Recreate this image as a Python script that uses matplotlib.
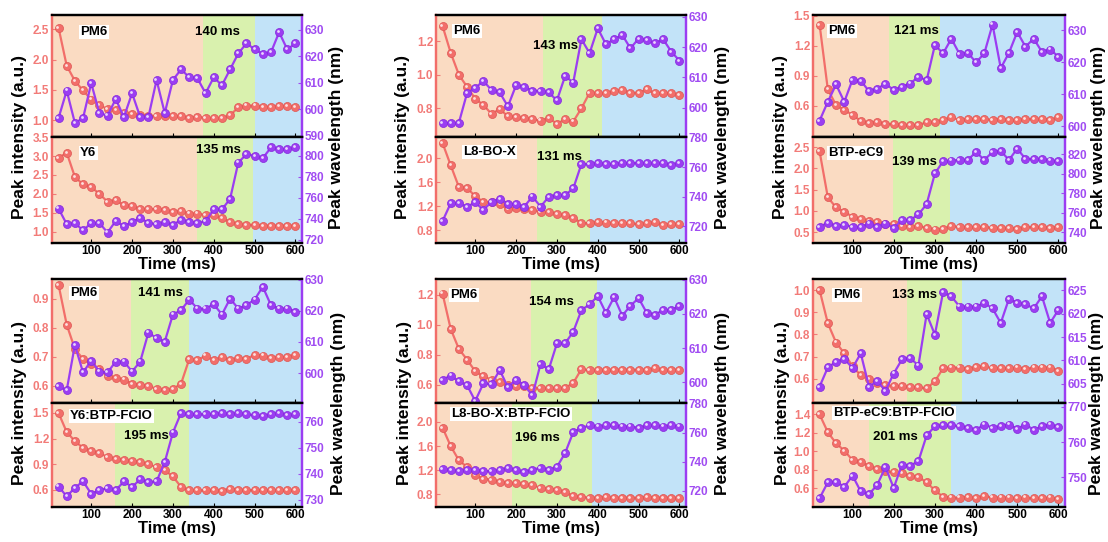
import matplotlib
matplotlib.use('Agg')
import matplotlib.pyplot as plt
from matplotlib.ticker import FormatStrFormatter
from matplotlib.transforms import offset_copy

plt.rcParams['font.family'] = ['Liberation Sans', 'DejaVu Sans']
plt.rcParams['font.weight'] = 'bold'

# time axis (ms)
t = [20, 40, 60, 80, 100, 120, 140, 160, 180, 200, 220, 240, 260, 280, 300,
     320, 340, 360, 380, 400, 420, 440, 460, 480, 500, 520, 540, 560, 580, 600]

# PM6:Y6
pm6_y6_int = [2.53, 1.90, 1.65, 1.49, 1.34, 1.25, 1.18, 1.17, 1.12, 1.10, 1.08, 1.07, 1.07, 1.06, 1.06,
              1.06, 1.04, 1.05, 1.04, 1.03, 1.03, 1.08, 1.21, 1.24, 1.24, 1.22, 1.22, 1.23, 1.23, 1.22]
pm6_y6_wl = [596.6, 607.0, 594.8, 596.6, 609.8, 598.5, 597.6, 603.8, 597.0, 606.0, 597.0, 597.0, 611.0, 598.5, 611.0,
             615.0, 612.0, 611.6, 606.0, 612.0, 609.0, 615.0, 621.0, 624.8, 622.6, 620.8, 621.4, 629.0, 622.5, 624.8]
y6_int = [2.95, 3.09, 2.45, 2.25, 2.18, 2.00, 1.79, 1.83, 1.70, 1.68, 1.60, 1.60, 1.60, 1.57, 1.53,
          1.54, 1.48, 1.48, 1.44, 1.44, 1.35, 1.26, 1.19, 1.18, 1.18, 1.16, 1.16, 1.16, 1.16, 1.16]
y6_wl = [749.8, 735.0, 736.0, 729.0, 736.0, 736.0, 727.0, 738.0, 733.0, 737.0, 741.0, 736.0, 735.0, 737.0, 734.4,
         739.0, 737.0, 736.0, 738.0, 749.0, 749.0, 759.0, 793.6, 801.6, 800.0, 797.8, 808.0, 806.4, 806.4, 808.0]

# PM6:L8-BO-X
pm6_l8_int = [1.29, 1.13, 1.00, 0.928, 0.858, 0.82, 0.767, 0.796, 0.753, 0.748, 0.744, 0.734, 0.728, 0.742, 0.709,
              0.734, 0.722, 0.80, 0.893, 0.893, 0.889, 0.903, 0.909, 0.893, 0.893, 0.913, 0.889, 0.893, 0.889, 0.878]
pm6_l8_wl = [594.8, 594.8, 595.0, 604.8, 606.5, 608.8, 605.8, 605.0, 600.4, 607.4, 606.9, 605.6, 605.6, 605.0, 602.4,
             610.4, 608.3, 622.6, 618.0, 626.2, 620.9, 622.6, 624.0, 619.6, 622.8, 622.3, 621.2, 622.6, 618.5, 615.5]
l8_int = [2.25, 1.88, 1.52, 1.50, 1.37, 1.27, 1.27, 1.24, 1.155, 1.166, 1.155, 1.14, 1.10, 1.11, 1.07,
          1.05, 1.01, 0.92, 0.92, 0.94, 0.93, 0.92, 0.92, 0.92, 0.90, 0.92, 0.94, 0.885, 0.91, 0.91]
l8_wl = [723.4, 735.5, 735.5, 733.2, 736.0, 731.0, 736.4, 738.6, 735.2, 734.8, 733.2, 740.0, 733.2, 739.8, 741.0,
         741.0, 745.5, 762.0, 762.0, 762.7, 762.0, 762.0, 762.7, 762.7, 762.7, 762.7, 762.7, 762.7, 761.4, 762.7]

# PM6:BTP-eC9
pm6_ec9_int = [1.41, 0.764, 0.607, 0.56, 0.51, 0.45, 0.43, 0.44, 0.42, 0.42, 0.41, 0.41, 0.405, 0.44, 0.44,
               0.46, 0.485, 0.46, 0.47, 0.47, 0.47, 0.46, 0.47, 0.46, 0.46, 0.47, 0.47, 0.47, 0.46, 0.485]
pm6_ec9_wl = [601.8, 607.7, 613.1, 607.7, 614.6, 614.3, 611.0, 611.8, 613.3, 611.4, 612.4, 613.4, 615.5, 614.4, 625.4,
              622.8, 627.4, 622.6, 623.0, 620.0, 622.8, 631.8, 618.2, 623.0, 629.5, 624.9, 627.4, 623.3, 624.0, 621.8]
ec9_int = [2.40, 1.32, 1.08, 0.98, 0.86, 0.80, 0.76, 0.74, 0.70, 0.70, 0.64, 0.62, 0.64, 0.60, 0.56,
           0.58, 0.64, 0.62, 0.62, 0.62, 0.62, 0.60, 0.60, 0.60, 0.58, 0.62, 0.62, 0.62, 0.60, 0.62]
ec9_wl = [745.3, 749.8, 746.3, 747.7, 745.3, 745.3, 748.8, 745.3, 748.8, 744.2, 752.3, 752.3, 758.2, 768.8, 800.4,
          813.0, 813.7, 814.4, 814.4, 822.5, 814.4, 822.5, 823.5, 814.4, 826.0, 815.4, 815.4, 815.4, 813.7, 813.0]

# PM6:Y6:BTP-FCIO
pm6_y6f_int = [0.949, 0.811, 0.727, 0.692, 0.676, 0.658, 0.632, 0.627, 0.621, 0.607, 0.603, 0.600, 0.588, 0.584, 0.588,
               0.607, 0.692, 0.688, 0.704, 0.688, 0.699, 0.688, 0.696, 0.692, 0.707, 0.704, 0.696, 0.699, 0.699, 0.707]
pm6_y6f_wl = [595.7, 594.5, 609.0, 600.2, 604.0, 600.5, 600.2, 603.7, 603.7, 600.5, 603.7, 613.0, 611.2, 610.1, 618.8,
              620.2, 623.6, 620.7, 620.7, 622.1, 618.8, 623.9, 620.7, 621.8, 623.6, 627.7, 621.8, 620.7, 620.7, 619.7]
y6f_int = [1.50, 1.277, 1.17, 1.09, 1.054, 1.03, 0.983, 0.964, 0.952, 0.936, 0.925, 0.897, 0.866, 0.827, 0.756,
           0.631, 0.592, 0.592, 0.592, 0.60, 0.584, 0.612, 0.60, 0.60, 0.592, 0.592, 0.592, 0.592, 0.592, 0.60]
y6f_wl = [735.1, 731.3, 734.6, 737.1, 732.3, 733.6, 734.6, 733.6, 737.1, 734.9, 737.9, 736.8, 737.1, 744.5, 755.9,
          763.5, 762.9, 762.9, 762.9, 762.9, 763.5, 762.9, 763.5, 762.9, 762.6, 762.2, 762.9, 763.5, 762.6, 762.9]

# PM6:L8-BO-X:BTP-FCIO
pm6_l8f_int = [1.207, 0.971, 0.838, 0.767, 0.689, 0.656, 0.633, 0.616, 0.600, 0.589, 0.593, 0.578, 0.578, 0.578, 0.578,
               0.578, 0.611, 0.704, 0.696, 0.700, 0.700, 0.700, 0.700, 0.700, 0.700, 0.700, 0.709, 0.696, 0.700, 0.700]
pm6_l8f_wl = [600.8, 602.0, 600.3, 599.2, 594.6, 599.7, 599.5, 603.6, 598.6, 600.8, 599.2, 596.2, 605.4, 603.8, 611.4,
              611.4, 614.8, 621.1, 622.8, 625.2, 620.3, 624.9, 619.5, 622.4, 624.6, 620.3, 619.8, 621.1, 621.1, 622.4]
l8f_int = [1.906, 1.60, 1.364, 1.253, 1.115, 1.06, 1.043, 1.005, 0.988, 0.988, 0.966, 0.949, 0.911, 0.894, 0.877,
           0.839, 0.767, 0.756, 0.745, 0.745, 0.756, 0.745, 0.745, 0.745, 0.745, 0.756, 0.745, 0.745, 0.745, 0.745]
l8f_wl = [735.2, 734.5, 733.6, 734.5, 734.5, 733.6, 733.6, 734.1, 735.9, 734.1, 733.0, 734.5, 735.9, 734.5, 736.4,
          745.9, 760.2, 763.2, 764.8, 764.1, 764.8, 764.8, 764.1, 764.1, 763.2, 764.8, 764.8, 764.1, 764.8, 764.1]

# PM6:BTP-eC9:BTP-FCIO
pm6_ec9f_int = [1.0, 0.85, 0.763, 0.714, 0.655, 0.615, 0.60, 0.581, 0.573, 0.566, 0.566, 0.561, 0.561, 0.556, 0.588,
                0.647, 0.65, 0.65, 0.644, 0.653, 0.655, 0.647, 0.647, 0.647, 0.65, 0.644, 0.65, 0.65, 0.65, 0.636]
pm6_ec9f_wl = [604.4, 608.5, 609.7, 610.3, 608.4, 611.5, 604.4, 605.6, 603.5, 607.2, 610.2, 610.5, 608.9, 619.9, 615.5,
               624.6, 623.7, 621.5, 621.5, 621.5, 622.3, 621.1, 618.0, 623.2, 622.3, 622.0, 621.1, 623.7, 618.0, 620.8]
ec9f_int = [1.40, 1.207, 1.087, 1.007, 0.905, 0.88, 0.844, 0.807, 0.789, 0.771, 0.76, 0.735, 0.724, 0.662, 0.578,
            0.505, 0.498, 0.498, 0.505, 0.49, 0.516, 0.498, 0.498, 0.498, 0.49, 0.498, 0.49, 0.49, 0.498, 0.48]
ec9f_wl = [744.1, 748.6, 748.8, 747.3, 750.5, 746.0, 745.2, 747.9, 752.9, 747.0, 753.6, 753.3, 754.6, 761.9, 764.5,
           764.8, 764.8, 764.5, 764.1, 763.5, 765.0, 764.1, 764.5, 765.0, 763.8, 765.0, 763.5, 764.5, 765.0, 764.3]

# stage boundaries (ms): end of orange, end of green
spans = {
    'pm6_y6': (373, 500), 'y6': (360, 496),
    'pm6_l8': (267, 410), 'l8': (251, 382),
    'pm6_ec9': (188, 312), 'ec9': (198, 336),
    'pm6_y6f': (198, 340), 'y6f': (158, 340),
    'pm6_l8f': (236, 398), 'l8f': (189, 385),
    'pm6_ec9f': (233, 366), 'ec9f': (140, 340),
}
stage_time = ['140 ms', '135 ms', '143 ms', '131 ms', '121 ms', '139 ms',
              '141 ms', '195 ms', '154 ms', '196 ms', '133 ms', '201 ms']
names = ['PM6', 'Y6', 'PM6', 'L8-BO-X', 'PM6', 'BTP-eC9',
         'PM6', 'Y6:BTP-FCIO', 'PM6', 'L8-BO-X:BTP-FCIO', 'PM6', 'BTP-eC9:BTP-FCIO']

RED = '#F26E6A'
RED_EDGE = '#DE5652'
PURPLE = '#9B3DF2'
PURPLE_EDGE = '#8428DA'
RED_TXT = '#F27B78'
PURPLE_TXT = '#A04CF2'
STAGE_COLORS = ['#FADBC2', '#D9F1AE', '#C2E3F8']
XMIN, XMAX = 4, 616

W, H = 1108, 542
fig = plt.figure(figsize=(W / 100, H / 100), dpi=100)


def px_axes(l, top, r, b):
    return fig.add_axes([l / W, 1 - b / H, (r - l) / W, (b - top) / H])


def px_text(x, y, s, **kw):
    return fig.text(x / W, 1 - y / H, s, **kw)


def ball_line(ax, y, color, edge):
    ax.plot(t, y, '-o', color=color, lw=1.6, ms=5.8, mfc=color, mec=edge, mew=0.5)
    shine = offset_copy(ax.transData, fig=fig, x=-0.8, y=0.8, units='points')
    ax.plot(t, y, 'o', ms=2.0, color='white', alpha=0.8, mew=0, transform=shine)


def panel(box, key, inten, wl, ilim, iticks, wlim, wticks, bottom):
    ax = px_axes(*box)
    s0, s1 = spans[key]
    ax.axvspan(XMIN, s0, color=STAGE_COLORS[0], lw=0)
    ax.axvspan(s0, s1, color=STAGE_COLORS[1], lw=0)
    ax.axvspan(s1, XMAX, color=STAGE_COLORS[2], lw=0)
    ball_line(ax, inten, RED, RED_EDGE)
    ax.set_xlim(XMIN, XMAX)
    ax.set_ylim(*ilim)
    ax.set_yticks(iticks)
    ax.yaxis.set_major_formatter(FormatStrFormatter('%.1f'))
    ax.set_xticks([100, 200, 300, 400, 500, 600])
    ax.tick_params(axis='y', colors=RED_TXT, direction='in', length=3, labelsize=8.5, pad=2)
    ax.tick_params(axis='x', direction='in', length=3, labelsize=8.5, pad=1.5,
                   labelbottom=bottom)

    ax2 = ax.twinx()
    ball_line(ax2, wl, PURPLE, PURPLE_EDGE)
    ax2.set_ylim(*wlim)
    ax2.set_yticks(wticks)
    ax2.tick_params(axis='y', colors=PURPLE_TXT, direction='in', length=3, labelsize=8.5, pad=2)

    for a in (ax, ax2):
        a.spines['top'].set_color('black')
        a.spines['bottom'].set_color('black')
        a.spines['left'].set_color(RED)
        a.spines['right'].set_color(PURPLE)
        for sp in a.spines.values():
            sp.set_linewidth(1.6)
    return ax


# (left, right) pixel columns and (top, middle, bottom) pixel rows of each group
columns = [(52, 302), (436, 686), (813, 1065)]
rows = [(15, 137, 243), (279, 403, 507)]
keys = [('pm6_y6', 'y6'), ('pm6_l8', 'l8'), ('pm6_ec9', 'ec9'),
        ('pm6_y6f', 'y6f'), ('pm6_l8f', 'l8f'), ('pm6_ec9f', 'ec9f')]
series = {
    'pm6_y6': (pm6_y6_int, pm6_y6_wl), 'y6': (y6_int, y6_wl),
    'pm6_l8': (pm6_l8_int, pm6_l8_wl), 'l8': (l8_int, l8_wl),
    'pm6_ec9': (pm6_ec9_int, pm6_ec9_wl), 'ec9': (ec9_int, ec9_wl),
    'pm6_y6f': (pm6_y6f_int, pm6_y6f_wl), 'y6f': (y6f_int, y6f_wl),
    'pm6_l8f': (pm6_l8f_int, pm6_l8f_wl), 'l8f': (l8f_int, l8f_wl),
    'pm6_ec9f': (pm6_ec9f_int, pm6_ec9f_wl), 'ec9f': (ec9f_int, ec9f_wl),
}
# y limits and ticks: (intensity lim, intensity ticks, wavelength lim, wavelength ticks)
scales = {
    'pm6_y6': ((0.72, 2.74), [1.0, 1.5, 2.0, 2.5], (589.5, 635.5), [590, 600, 610, 620, 630]),
    'y6': ((0.70, 3.505), [1.0, 1.5, 2.0, 2.5, 3.0, 3.5], (717, 818), [720, 740, 760, 780, 800]),
    'pm6_l8': ((0.63, 1.355), [0.8, 1.0, 1.2], (590.3, 630.6), [600, 610, 620, 630]),
    'l8': ((0.59, 2.35), [0.8, 1.2, 1.6, 2.0], (708.6, 780.3), [720, 740, 760, 780]),
    'pm6_ec9': ((0.29, 1.506), [0.6, 0.9, 1.2, 1.5], (596.7, 634.8), [600, 610, 620, 630]),
    'ec9': ((0.244, 2.74), [0.5, 1.0, 1.5, 2.0, 2.5], (728.8, 838), [740, 760, 780, 800, 820]),
    'pm6_y6f': ((0.54, 0.969), [0.6, 0.7, 0.8, 0.9], (590.4, 630.2), [600, 610, 620, 630]),
    'y6f': ((0.397, 1.617), [0.6, 0.9, 1.2, 1.5], (727.2, 767.3), [730, 740, 750, 760]),
    'pm6_l8f': ((0.478, 1.304), [0.6, 0.8, 1.0, 1.2], (594, 630.2), [600, 610, 620, 630]),
    'l8f': ((0.59, 2.315), [0.8, 1.2, 1.6, 2.0], (709, 780.2), [720, 740, 760, 780]),
    'pm6_ec9f': ((0.49, 1.05), [0.6, 0.7, 0.8, 0.9, 1.0], (600.9, 627.4), [605, 610, 615, 620, 625]),
    'ec9f': ((0.396, 1.524), [0.6, 0.8, 1.0, 1.2, 1.4], (741.6, 771.1), [750, 760, 770]),
}
# label anchors in pixels: (name x, name y, time x, time y)
label_pos = [(80, 32, 195, 32), (80, 153, 196, 150),
             (453, 31, 533, 46), (463, 152, 537, 157),
             (828, 31, 894, 31), (828, 153, 892, 162),
             (70, 293, 138, 293), (70, 416, 124, 436),
             (450, 295, 529, 302), (451, 414, 515, 438),
             (833, 295, 892, 295), (833, 413, 873, 437)]
# axis title anchors: (left label x, right label x)
title_x = [(20, 337), (403, 722), (780, 1099), (20, 338), (404, 722), (782, 1097)]

for g, (top_key, bot_key) in enumerate(keys):
    l, r = columns[g % 3]
    y0, ym, y1 = rows[g // 3]
    for k, (key, box, bottom) in enumerate([(top_key, (l, y0, r, ym), False),
                                            (bot_key, (l, ym, r, y1), True)]):
        panel(box, key, *series[key], *scales[key], bottom)
        i = 2 * g + k
        nx, ny, tx, ty = label_pos[i]
        px_text(nx, ny, names[i], ha='left', va='center', fontsize=9.5,
                bbox=dict(facecolor='white', edgecolor='none', pad=1.0))
        px_text(tx, ty, stage_time[i], ha='left', va='center', fontsize=9.5)
    lx, rx = title_x[g]
    px_text(lx, ym, 'Peak intensity (a.u.)', rotation=90, ha='center', va='center', fontsize=12.5)
    px_text(rx, ym, 'Peak wavelength (nm)', rotation=90, ha='center', va='center', fontsize=12.5)
    px_text((l + r) / 2, y1 + 22, 'Time (ms)', ha='center', va='center', fontsize=12)

fig.savefig('out.png', dpi=100)
